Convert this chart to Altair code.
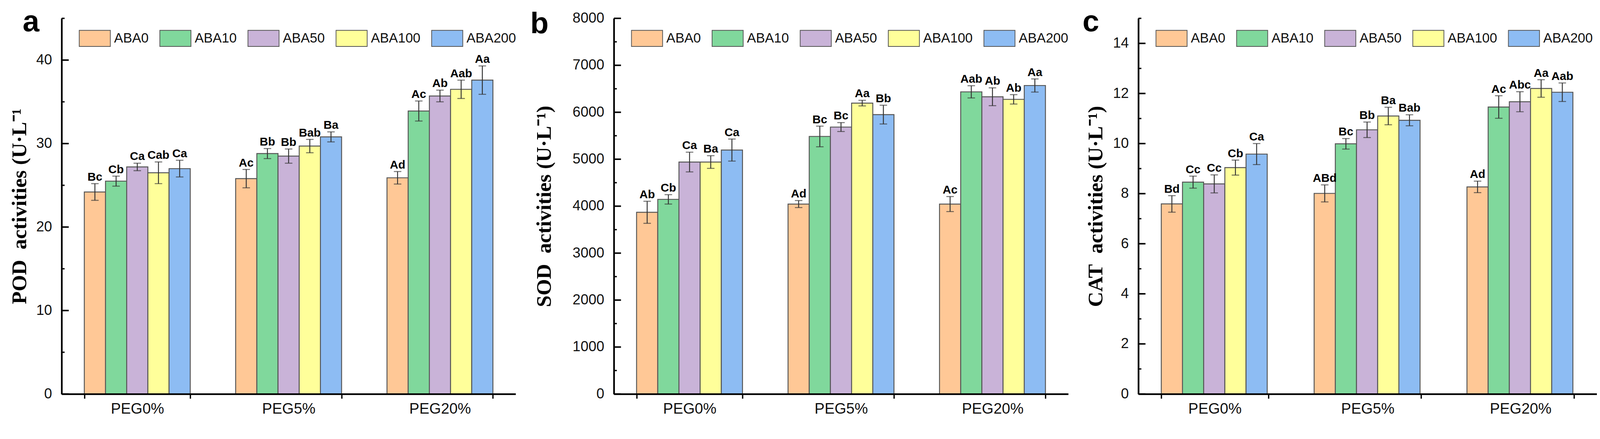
import altair as alt
import pandas as pd

groups = ["PEG0%", "PEG5%", "PEG20%"]
treatments = ["ABA0", "ABA10", "ABA50", "ABA100", "ABA200"]
colors = ["#FFC896", "#80D89C", "#C9B3D8", "#FFFF9A", "#8DBCF3"]

# POD (panel a), one row per PEG level, one value per ABA treatment
pod_mean = [
    [24.2, 25.5, 27.2, 26.5, 27.0],
    [25.8, 28.8, 28.5, 29.7, 30.8],
    [25.9, 33.9, 35.7, 36.5, 37.6],
]
pod_err = [
    [1.0, 0.6, 0.45, 1.3, 1.0],
    [1.1, 0.6, 0.85, 0.8, 0.6],
    [0.75, 1.2, 0.7, 1.1, 1.7],
]
pod_letters = [
    ["Bc", "Cb", "Ca", "Cab", "Ca"],
    ["Ac", "Bb", "Bb", "Bab", "Ba"],
    ["Ad", "Ac", "Ab", "Aab", "Aa"],
]

# SOD (panel b)
sod_mean = [
    [3870, 4145, 4940, 4940, 5195],
    [4045, 5485, 5685, 6195, 5950],
    [4045, 6435, 6330, 6275, 6570],
]
sod_err = [
    [235, 100, 210, 135, 235],
    [75, 220, 95, 60, 200],
    [160, 130, 190, 100, 140],
]
sod_letters = [
    ["Ab", "Cb", "Ca", "Ba", "Ca"],
    ["Ad", "Bc", "Bc", "Aa", "Bb"],
    ["Ac", "Aab", "Ab", "Ab", "Aa"],
]

# CAT (panel c)
cat_mean = [
    [7.59, 8.46, 8.39, 9.04, 9.58],
    [8.01, 9.99, 10.55, 11.10, 10.93],
    [8.27, 11.46, 11.67, 12.20, 12.05],
]
cat_err = [
    [0.33, 0.24, 0.36, 0.30, 0.42],
    [0.34, 0.21, 0.31, 0.35, 0.22],
    [0.23, 0.45, 0.40, 0.35, 0.37],
]
cat_letters = [
    ["Bd", "Cc", "Cc", "Cb", "Ca"],
    ["ABd", "Bc", "Bb", "Ba", "Bab"],
    ["Ad", "Ac", "Abc", "Aa", "Aab"],
]

pod_major = [0, 10, 20, 30, 40]
pod_minor = [5, 15, 25, 35, 45]
sod_major = [0, 1000, 2000, 3000, 4000, 5000, 6000, 7000, 8000]
sod_minor = [500, 1500, 2500, 3500, 4500, 5500, 6500, 7500]
cat_major = [0, 2, 4, 6, 8, 10, 12, 14]
cat_minor = [1, 3, 5, 7, 9, 11, 13, 15]

SANS = "Liberation Sans"
SERIF = "Liberation Serif"


def make_panel(means, errs, letters, ytitle, letter, ymax, major, minor,
               width, letter_dx, letter_dy, title_pad):
    rows = []
    for g, gm, ge, gl in zip(groups, means, errs, letters):
        for t, m, e, l in zip(treatments, gm, ge, gl):
            rows.append({"group": g, "treatment": t, "mean": m,
                         "lo": m - e, "hi": m + e, "letter": l})
    df = pd.DataFrame(rows)

    x = alt.X(
        "group:N", sort=groups,
        scale=alt.Scale(paddingInner=0.3, paddingOuter=0.15),
        axis=alt.Axis(title=None, labelAngle=0, tickBand="extent",
                      tickSize=12, tickWidth=3.5, tickColor="black",
                      labelFont=SANS, labelFontSize=40, labelColor="#111",
                      labelPadding=8, domainColor="black", domainWidth=4.5,
                      zindex=1),
    )
    xo = alt.XOffset("treatment:N", sort=treatments,
                     scale=alt.Scale(paddingInner=0, paddingOuter=0))
    yscale = alt.Scale(domain=[0, ymax], nice=False)
    yaxis = alt.Axis(title=ytitle, values=major, format="d",
                     ticks=False, tickSize=0, grid=False,
                     labelPadding=26, labelFont=SANS,
                     labelFontSize=38, labelColor="#111",
                     domainColor="black", domainWidth=4.5,
                     titleFont=SERIF, titleFontSize=56,
                     titleFontWeight="bold", titleColor="black",
                     titlePadding=title_pad, zindex=1)

    def yenc(field):
        return alt.Y(field, scale=yscale, axis=yaxis, title=ytitle)

    bars = alt.Chart(df).mark_bar(stroke="#555", strokeWidth=2.5).encode(
        x=x,
        xOffset=xo,
        y=yenc("mean:Q"),
        color=alt.Color(
            "treatment:N", sort=treatments,
            scale=alt.Scale(domain=treatments, range=colors),
            legend=alt.Legend(
                title=None, orient="none", legendX=46, legendY=11,
                direction="horizontal", columns=5, padding=0,
                symbolType="M-1,-0.518H1V0.518H-1Z", symbolSize=6889,
                symbolStrokeColor="#555", symbolStrokeWidth=2,
                symbolOpacity=1, labelFont=SANS, labelFontSize=36,
                labelColor="#111", labelOffset=9, columnPadding=25,
            ),
        ),
    )

    whisker = alt.Chart(df).mark_rule(color="#333", strokeWidth=2.5).encode(
        x=x, xOffset=xo, y=yenc("lo:Q"), y2="hi:Q")
    cap_lo = alt.Chart(df).mark_tick(
        orient="horizontal", size=20, thickness=2.5, color="#333").encode(
        x=x, xOffset=xo, y=yenc("lo:Q"))
    cap_hi = alt.Chart(df).mark_tick(
        orient="horizontal", size=20, thickness=2.5, color="#333").encode(
        x=x, xOffset=xo, y=yenc("hi:Q"))
    labels = alt.Chart(df).mark_text(
        font=SANS, fontSize=31, fontWeight="bold", color="black",
        baseline="alphabetic", dy=-8).encode(
        x=x, xOffset=xo, y=yenc("hi:Q"), text="letter:N")

    # inward y ticks, as in the original figure
    major_ticks = alt.Chart(pd.DataFrame({"t": major})).mark_rule(
        color="black", strokeWidth=4).encode(
        y=yenc("t:Q"), x=alt.value(0), x2=alt.value(19))
    minor_ticks = alt.Chart(pd.DataFrame({"t": minor})).mark_rule(
        color="black", strokeWidth=3.5).encode(
        y=yenc("t:Q"), x=alt.value(0), x2=alt.value(8))

    # panel letter
    tag = alt.Chart(pd.DataFrame({"tag": [letter]})).mark_text(
        font=SANS, fontSize=80, fontWeight="bold", color="black",
        align="left", baseline="alphabetic").encode(
        text="tag:N", x=alt.value(letter_dx), y=alt.value(letter_dy))

    return alt.layer(
        bars, whisker, cap_lo, cap_hi, labels, major_ticks, minor_ticks, tag
    ).properties(width=width, height=1003)


panel_a = make_panel(pod_mean, pod_err, pod_letters,
                     "POD\u00a0 activities (U·L⁻¹", "a", 45,
                     pod_major, pod_minor, 1211, -104, 34, 15)
panel_b = make_panel(sod_mean, sod_err, sod_letters,
                     "SOD\u00a0 activities (U·L⁻¹)", "b", 8000,
                     sod_major, sod_minor, 1212, -223, 40, 46)
panel_c = make_panel(cat_mean, cat_err, cat_letters,
                     "CAT\u00a0 activities (U·L⁻¹)", "c", 15,
                     cat_major, cat_minor, 1223, -149, 34, 16)

chart = (
    alt.hconcat(panel_a, panel_b, panel_c, spacing=37)
    .resolve_scale(x="independent", y="independent", color="independent")
    .resolve_legend(color="independent")
    .properties(padding={"left": 15, "top": -12, "right": 0, "bottom": 0},
                background="white")
    .configure_view(stroke=None)
)

chart.save("out.html", embed_options={"renderer": "svg", "actions": False})
